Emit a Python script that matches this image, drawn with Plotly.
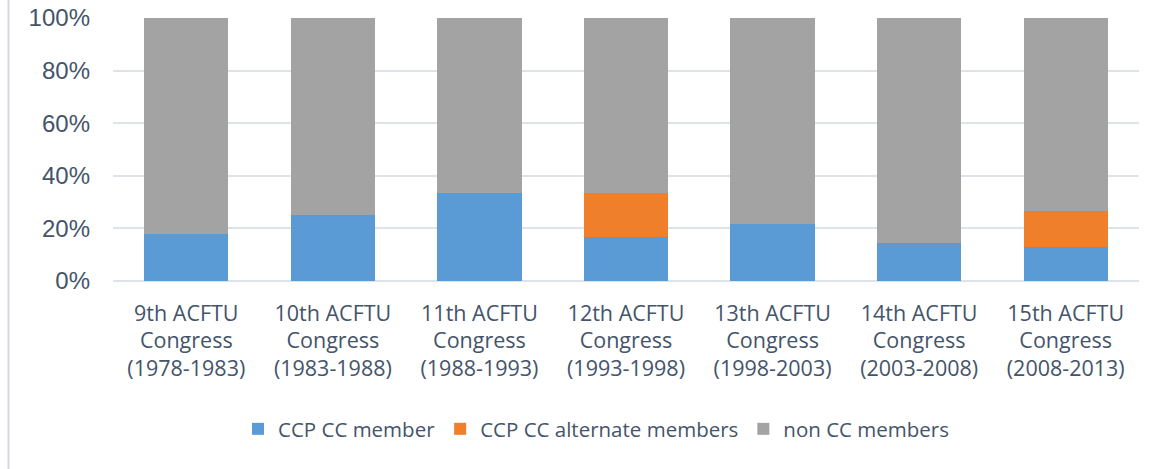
import plotly.graph_objects as go

categories = [
    "9th ACFTU<br>Congress<br>(1978-1983)",
    "10th ACFTU<br>Congress<br>(1983-1988)",
    "11th ACFTU<br>Congress<br>(1988-1993)",
    "12th ACFTU<br>Congress<br>(1993-1998)",
    "13th ACFTU<br>Congress<br>(1998-2003)",
    "14th ACFTU<br>Congress<br>(2003-2008)",
    "15th ACFTU<br>Congress<br>(2008-2013)",
]
cc_members = [18.0, 25.0, 33.3, 16.7, 21.7, 14.3, 13.0]
cc_alternates = [0.0, 0.0, 0.0, 16.7, 0.0, 0.0, 13.6]
non_cc = [100 - a - b for a, b in zip(cc_members, cc_alternates)]

series_names = ["CCP CC member", "CCP CC alternate members", "non CC members"]
series_values = [cc_members, cc_alternates, non_cc]
colors = ["#5B9BD5", "#F07F2B", "#A3A3A3"]

W, H = 1167, 469
L, R, T = 113, 28, 18
plot_h = 263
B = H - T - plot_h
plot_w = W - L - R

fig = go.Figure()
for name, vals, c in zip(series_names, series_values, colors):
    fig.add_trace(go.Bar(x=categories, y=vals, name=name,
                         marker=dict(color=c, line=dict(width=0))))

text_color = "#44546A"
grid_color = "#DEE3E9"

legend_center_y = 429

fig.update_layout(
    width=W, height=H,
    barmode="stack",
    barnorm="percent",
    bargap=0.425,
    plot_bgcolor="white",
    paper_bgcolor="white",
    margin=dict(l=L, r=R, t=T, b=B, autoexpand=False),
    showlegend=True,
    legend=dict(
        orientation="h",
        x=596 / W, xref="container", xanchor="center",
        y=(T + plot_h - legend_center_y) / plot_h, yanchor="middle",
        font=dict(family="Open Sans", size=20.5, color=text_color),
        itemwidth=30,
        traceorder="normal",
    ),
    xaxis=dict(
        showgrid=False,
        showline=False,
        ticks="",
        tickfont=dict(family="Open Sans", size=21.5, color=text_color),
        ticklabelstandoff=17,
    ),
    yaxis=dict(
        range=[0, 100],
        tickvals=[0, 20, 40, 60, 80, 100],
        ticktext=["0%", "20%", "40%", "60%", "80%", "100%"],
        showgrid=True,
        gridcolor=grid_color,
        gridwidth=1.5,
        zeroline=True,
        zerolinecolor=grid_color,
        zerolinewidth=1.5,
        showline=False,
        ticks="",
        tickfont=dict(family="Liberation Sans", size=24, color=text_color),
        ticklabelstandoff=22,
        ticklabeloverflow="allow",
    ),
    shapes=[dict(
        type="line", xref="paper", yref="paper",
        x0=(8.5 - L) / plot_w, x1=(8.5 - L) / plot_w,
        y0=-(H - T - plot_h) / plot_h, y1=(T + plot_h) / plot_h,
        line=dict(color="#D3D8DE", width=2),
    )],
)

fig.write_html(
    "out.html",
    config={"displayModeBar": False},
    post_script="document.body.style.margin='0';document.body.style.overflow='hidden';",
)
